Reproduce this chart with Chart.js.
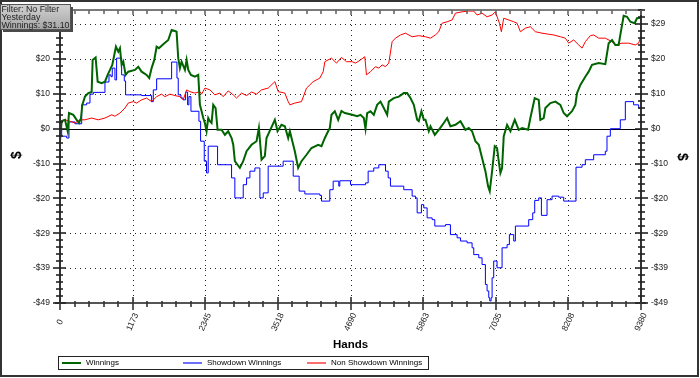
<!DOCTYPE html>
<html>
<head>
<meta charset="utf-8">
<script src="https://cdn.jsdelivr.net/npm/chart.js@4/dist/chart.umd.min.js"></script>
<style>
html,body{margin:0;padding:0;background:#fff;}
canvas{display:block;}
</style>
</head>
<body>
<canvas id="c" width="700" height="378"></canvas>
<script>
// ---------------- data ----------------
const seriesNames = ['Winnings', 'Showdown Winnings', 'Non Showdown Winnings'];
const infoLines = ['Filter: No Filter', 'Yesterday', 'Winnings: $31.10'];
const xTitle = 'Hands';
const yTitle = '$';

const xTickValues = [0, 1172.5, 2345, 3517.5, 4690, 5862.5, 7035, 8207.5, 9380];
const xTickLabels = ['0', '1173', '2345', '3518', '4690', '5863', '7035', '8208', '9380'];
const yTickValues = [29.33, 19.55, 9.78, 0, -9.78, -19.55, -29.33, -39.1, -48.88];
const yTickLabels = ['$29', '$20', '$10', '$0', '-$10', '-$20', '-$29', '-$39', '-$49'];
const yMax = 33.3;

// Winnings (green)
const winHands = [0,27,81,124,145,215,269,307,339,360,403,457,511,527,575,608,672,726,769,807,844,903,941,968,995,1022,1059,1102,1210,1264,1318,1398,1441,1479,1522,1560,1597,1667,1748,1802,1855,1882,1909,1936,1963,2017,2044,2071,2114,2178,2232,2259,2286,2313,2339,2366,2393,2420,2447,2474,2512,2544,2608,2662,2716,2770,2797,2823,2866,2904,2958,3012,3092,3173,3211,3254,3307,3334,3469,3512,3576,3630,3684,3711,3765,3791,3845,3899,3980,4060,4168,4222,4276,4329,4356,4383,4437,4491,4544,4598,4717,4798,4851,4905,4932,4959,5013,5066,5120,5174,5228,5282,5308,5389,5470,5550,5604,5658,5712,5766,5792,5835,5873,5900,5954,5981,6051,6115,6196,6250,6303,6384,6465,6545,6599,6653,6707,6761,6814,6868,6911,6938,6976,7019,7056,7083,7110,7137,7164,7218,7272,7342,7406,7460,7557,7594,7664,7729,7755,7809,7836,7917,7998,8078,8132,8186,8266,8320,8347,8401,8481,8535,8589,8697,8804,8858,8912,8966,9019,9046,9100,9154,9208,9277,9315,9380];
const winValues = [-3.5,2.1,2.5,-0.7,4.4,3.9,2.5,1.6,3.0,6.7,9.0,10.0,10.3,19.3,20.0,13.2,12.8,13.2,15.1,16.5,17.9,23.0,21.6,22.6,17.9,18.8,15.1,16.0,16.5,17.4,16.0,15.1,14.2,17.0,19.3,23.0,22.6,23.7,24.9,27.7,27.4,27.2,19.8,17.0,18.8,16.5,19.3,16.5,15.1,14.6,15.1,6.7,4.9,3.0,1.6,-0.7,3.0,2.1,1.6,6.7,5.8,-0.3,-0.3,-1.7,-0.7,-2.6,-4.5,-9.1,-10.1,-11.0,-9.1,-6.3,-4.5,-3.5,0.2,-8.7,-7.7,-2.6,2.5,-0.7,1.1,0.7,-2.6,-0.7,-4.5,-6.3,-11.0,-9.1,-7.3,-5.4,-4.5,-4.9,-2.6,-0.7,0.2,3.9,4.9,2.5,5.0,4.4,3.9,3.5,3.9,3.0,0,4.4,4.9,3.9,6.7,7.6,5.8,3.9,7.6,8.6,9.0,10.0,10.0,8.6,6.7,2.5,2.1,4.9,2.5,2.5,-0.7,0.7,-1.7,-0.3,1.6,3.0,0.7,1.1,2.1,-0.3,0.2,-0.7,-3.5,-4.5,-8.2,-11.9,-16.1,-17.5,-11.9,-4.9,-5.4,-9.1,-12.4,-11.0,-2.1,1.1,-0.7,2.5,-0.3,0.2,-0.3,3.0,8.6,8.1,2.5,3.0,5.8,7.2,7.6,6.7,4.4,3.5,4.9,6.7,10.0,12.3,14.6,16.0,17.9,18.4,18.1,24.0,24.9,23.5,23.5,26.3,31.7,31.4,30.0,29.6,31.0,31.1];

// Showdown Winnings (blue, changes in steps)
const sdHands = [0,27,108,145,242,350,430,484,538,726,791,823,844,887,914,995,1038,1059,1318,1479,1506,1560,1802,1888,1909,1952,1990,2028,2060,2081,2114,2243,2270,2329,2366,2393,2544,2770,2823,2958,3012,3066,3146,3227,3281,3361,3603,3765,3861,3953,4195,4222,4356,4410,4501,4517,4690,4932,4975,5066,5147,5255,5298,5335,5550,5685,5739,5766,5835,5873,5927,6008,6051,6223,6303,6411,6465,6572,6653,6680,6761,6814,6868,6895,6922,6938,6960,6976,7002,7056,7137,7218,7255,7325,7352,7567,7632,7664,7729,7772,7863,7944,8051,8132,8331,8428,8481,8616,8804,8831,8885,9046,9127,9261,9342,9380];
const sdValues = [-0.3,-2.1,-2.6,1.9,1.4,6.7,7.2,9.7,10.2,13.1,15.1,14.6,17.0,13.7,19.8,15.1,13.4,9.5,9.3,7.6,10.9,14.0,18.7,14.2,9.5,8.6,8.1,10.3,6.7,9.0,4.9,2.1,-3.5,-9.1,-12.4,-4.9,-10.1,-13.8,-19.4,-15.7,-13.8,-11.9,-11.0,-19.4,-18.0,-10.5,-9.1,-13.3,-17.5,-18.3,-18.7,-20.3,-17.1,-14.7,-16.1,-14.6,-15.7,-15.2,-11.9,-11.0,-10.1,-11.9,-13.8,-16.1,-17.1,-18.9,-19.4,-23.6,-21.3,-22.2,-25.0,-25.5,-27.3,-26.9,-29.7,-30.6,-31.5,-32.0,-33.4,-35.3,-36.2,-38.1,-43.7,-45.5,-47.4,-48.3,-47.4,-41.8,-37.1,-39.0,-33.4,-32.5,-29.7,-31.5,-27.3,-25.5,-23.6,-20.1,-19.4,-24.3,-19.9,-18.9,-19.2,-20.3,-10.8,-10.1,-8.7,-7.3,-6.3,-2.1,0,2.5,7.6,6.7,5.8,5.0];

// Non Showdown Winnings (red)
const nsdHands = [0,81,161,242,323,403,511,618,726,834,887,968,1049,1102,1183,1237,1318,1398,1479,1560,1640,1694,1775,1855,1936,1990,2044,2097,2178,2259,2286,2339,2420,2501,2581,2635,2716,2797,2850,2931,3012,3092,3173,3254,3361,3469,3523,3630,3684,3711,3791,3899,3980,4087,4195,4249,4276,4383,4464,4544,4625,4717,4771,4851,4921,4948,5013,5093,5147,5201,5255,5308,5362,5416,5497,5577,5685,5792,5900,5981,6061,6115,6169,6250,6330,6384,6492,6599,6680,6734,6814,6895,6976,7029,7094,7126,7164,7245,7325,7379,7433,7513,7594,7675,7782,7890,7971,8078,8159,8213,8293,8374,8428,8481,8562,8616,8697,8804,8912,8966,9073,9181,9288,9342,9380];
const nsdValues = [2.2,2.5,2.1,1.6,2.5,2.5,3.0,2.5,3.0,3.9,3.5,4.4,5.8,7.2,7.6,7.2,8.1,8.6,7.6,9.0,9.7,9.0,9.7,9.3,9.0,8.1,10.9,10.4,10.0,10.4,9.7,11.4,10.9,9.5,10.0,9.0,10.6,9.5,8.6,10.0,9.3,10.3,9.7,10.9,11.4,13.2,10.4,10.0,7.6,6.7,7.2,7.6,11.4,13.2,14.2,16.0,18.8,19.8,18.4,20.0,18.8,18.8,18.4,19.3,20.2,15.1,16.0,17.4,17.0,17.9,17.4,18.4,24.4,25.4,26.3,26.8,25.8,26.1,25.8,25.4,26.3,27.2,29.6,30.0,30.5,32.4,32.8,33.0,33.0,31.9,32.4,31.4,31.9,32.8,29.6,27.2,31.0,30.5,30.0,29.6,27.2,28.2,28.6,27.2,26.8,26.5,26.3,25.8,25.4,24.0,24.9,23.5,22.6,24.4,26.1,26.3,25.4,25.4,24.4,23.5,24.0,24.0,23.5,24.0,26.1];

// ---------------- drawing ----------------
const FONT = '"Liberation Sans", Arial, sans-serif';
const COLORS = { win: '#006400', sd: '#0000ff', nsd: '#ff0000' };
const LEGEND_COLORS = ['#006400', '#6e6eff', '#ff6e6e'];

function pts(xs, ys) { return xs.map((x, i) => ({ x: x, y: ys[i] })); }

function seg(c, x1, y1, x2, y2) { c.beginPath(); c.moveTo(x1, y1); c.lineTo(x2, y2); c.stroke(); }

const decor = {
  id: 'decor',
  beforeDraw(chart) {
    const c = chart.ctx;
    c.save(); c.fillStyle = '#fff'; c.fillRect(0, 0, chart.width, chart.height); c.restore();
  },
  beforeDatasetsDraw(chart) {
    const c = chart.ctx, a = chart.chartArea, xs = chart.scales.x, ys = chart.scales.y;
    c.save();
    c.lineWidth = 1; c.strokeStyle = '#222'; c.setLineDash([1, 4]);
    c.beginPath();
    xTickValues.forEach((v, i) => {
      if (i === 0 || i === xTickValues.length - 1) return;
      const px = Math.round(xs.getPixelForValue(v)) + 0.5;
      c.moveTo(px, a.top); c.lineTo(px, a.bottom);
    });
    yTickValues.forEach((v, i) => {
      if (v === 0 || i === yTickValues.length - 1) return;
      const py = Math.round(ys.getPixelForValue(v)) + 0.5;
      c.moveTo(a.left, py); c.lineTo(a.right, py);
    });
    c.stroke();
    c.setLineDash([]);
    const pz = Math.round(ys.getPixelForValue(0)) + 0.5;
    c.strokeStyle = '#000'; c.lineWidth = 1;
    seg(c, a.left, pz, a.right, pz);
    c.restore();
  },
  afterDatasetsDraw(chart) {
    const c = chart.ctx, a = chart.chartArea, xs = chart.scales.x, ys = chart.scales.y;
    const L = Math.round(a.left), R = Math.round(a.right), T = Math.round(a.top), B = Math.round(a.bottom);
    c.save();

    // axis lines
    c.lineWidth = 2;
    c.strokeStyle = '#7a7a7a';
    seg(c, L, T, R, T);
    c.strokeStyle = '#555';
    seg(c, L - 5, B, R + 5, B);
    c.strokeStyle = '#333';
    seg(c, L, T - 1, L, B + 1);
    seg(c, R, T - 1, R, B + 1);

    // y ticks (major + 4 minor)
    const yMin = yTickValues[yTickValues.length - 1];
    const yStep = (yTickValues[0] - yTickValues[1]) / 5;
    c.lineWidth = 1.6; c.strokeStyle = '#222';
    for (let k = 0; yMin + k * yStep <= yMax + 0.01; k++) {
      const py = Math.round(ys.getPixelForValue(yMin + k * yStep));
      const major = k % 5 === 0;
      if (major) { seg(c, L - 7, py, L + 6, py); seg(c, R - 6, py, R + 7, py); }
      else { seg(c, L - 4, py, L + 3, py); seg(c, R - 3, py, R + 4, py); }
    }
    // x ticks
    const xStep = (xTickValues[1] - xTickValues[0]) / 5;
    const xMax = xTickValues[xTickValues.length - 1];
    c.strokeStyle = '#333';
    for (let k = 0; k * xStep <= xMax + 0.01; k++) {
      const px = Math.round(xs.getPixelForValue(k * xStep));
      const major = k % 5 === 0;
      if (major) seg(c, px, B - 6, px, B + 7); else seg(c, px, B - 2, px, B + 4);
      c.strokeStyle = '#666';
      seg(c, px, T, px, T + (major ? 5 : 4));
      c.strokeStyle = '#333';
    }

    // tick labels
    c.fillStyle = '#222';
    c.font = '8.5px ' + FONT;
    c.textBaseline = 'middle';
    yTickValues.forEach((v, i) => {
      const py = ys.getPixelForValue(v);
      c.textAlign = 'right'; c.fillText(yTickLabels[i], L - 10, py);
      c.textAlign = 'left'; c.fillText(yTickLabels[i], R + 10, py);
    });
    xTickValues.forEach((v, i) => {
      const px = xs.getPixelForValue(v);
      c.save();
      c.translate(px, B + 19);
      c.rotate(-65 * Math.PI / 180);
      c.textAlign = 'center'; c.textBaseline = 'middle';
      c.fillText(xTickLabels[i], 0, 0);
      c.restore();
    });

    // axis titles
    c.fillStyle = '#000';
    c.textAlign = 'center'; c.textBaseline = 'middle';
    c.font = 'bold 11.5px ' + FONT;
    c.fillText(xTitle, (L + R) / 2, 345);
    c.font = 'bold 14px ' + FONT;
    c.save(); c.translate(17, 155); c.rotate(-Math.PI / 2); c.fillText(yTitle, 0, 0); c.restore();
    c.save(); c.translate(682, 157); c.rotate(Math.PI / 2); c.fillText(yTitle, 0, 0); c.restore();

    // legend
    c.lineWidth = 1; c.strokeStyle = '#222';
    c.strokeRect(58.5, 356.5, 370, 13);
    const lx = [62, 183, 307];
    c.font = '8px ' + FONT; c.textAlign = 'left'; c.textBaseline = 'middle';
    seriesNames.forEach((n, i) => {
      c.strokeStyle = LEGEND_COLORS[i]; c.lineWidth = 2;
      seg(c, lx[i], 363, lx[i] + 19, 363);
      c.fillStyle = '#000';
      c.fillText(n, lx[i] + 24, 363);
    });

    // outer frame
    c.lineWidth = 2; c.strokeStyle = '#333';
    c.strokeRect(1, 1, 697, 375);

    // info box
    c.fillStyle = '#4a4a4a';
    c.fillRect(3, 7, 70, 25);
    const g = c.createLinearGradient(0, 4, 0, 29);
    g.addColorStop(0, '#d2d2d2'); g.addColorStop(1, '#a6a6a6');
    c.fillStyle = g;
    c.fillRect(0, 4, 70, 25);
    c.lineWidth = 1; c.strokeStyle = '#555';
    c.strokeRect(0.5, 4.5, 70, 25);
    c.fillStyle = '#222'; c.font = '8.8px ' + FONT; c.textAlign = 'left'; c.textBaseline = 'alphabetic';
    infoLines.forEach((t, i) => c.fillText(t, 1.5, 11.5 + i * 8));

    c.restore();
  }
};

new Chart(document.getElementById('c').getContext('2d'), {
  type: 'line',
  data: {
    datasets: [
      { label: seriesNames[0], data: pts(winHands, winValues), borderColor: COLORS.win, borderWidth: 2, pointRadius: 0, tension: 0, order: 1 },
      { label: seriesNames[1], data: pts(sdHands, sdValues), borderColor: COLORS.sd, borderWidth: 1, pointRadius: 0, stepped: true, order: 3 },
      { label: seriesNames[2], data: pts(nsdHands, nsdValues), borderColor: COLORS.nsd, borderWidth: 1, pointRadius: 0, tension: 0, order: 2 }
    ]
  },
  options: {
    responsive: false,
    animation: false,
    events: [],
    layout: { padding: { left: 60, right: 59, top: 10, bottom: 75 } },
    plugins: { legend: { display: false }, tooltip: { enabled: false } },
    scales: {
      x: { type: 'linear', display: false, min: xTickValues[0], max: xTickValues[xTickValues.length - 1] },
      y: { type: 'linear', display: false, min: yTickValues[yTickValues.length - 1], max: yMax }
    }
  },
  plugins: [decor]
});
</script>
</body>
</html>
